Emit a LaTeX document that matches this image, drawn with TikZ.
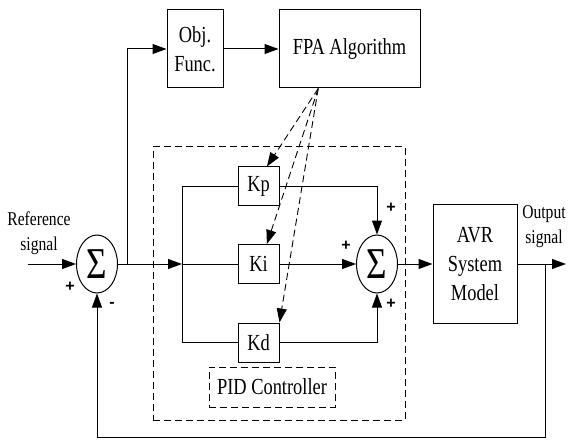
\documentclass[tikz,border=0pt]{standalone}
\usepackage{fontspec}
\setmainfont{Liberation Serif}
\setsansfont{Liberation Sans}
\usepackage{graphicx}
\usetikzlibrary{arrows.meta, shapes.geometric, calc}
\newcommand{\narrow}[1]{\scalebox{0.8}[1]{#1}}

\begin{document}
\begin{tikzpicture}[
  x=1pt, y=-1pt,
  line width=1pt,
  blk/.style={rectangle, draw, inner sep=0pt, align=center, font=\fontsize{23}{29}\selectfont},
  gain/.style={blk, minimum width=41pt, minimum height=39pt},
  sumnode/.style={ellipse, draw, inner sep=0pt, minimum width=41pt, minimum height=58pt, font=\fontsize{44}{44}\selectfont},
  sig/.style={align=center, font=\fontsize{19.5}{25}\selectfont},
  sgn/.style={font=\fontsize{16}{16}\selectfont\sffamily\bfseries},
  wire/.style={-{Triangle[length=14pt, width=10pt]}},
  tune/.style={wire, line width=0.9pt, dash pattern=on 7pt off 4pt},
]
\useasboundingbox (0,0) rectangle (568,441);

% Input and first summing point
\node[sig] (reftxt) at (39,233) {\narrow{Reference}\\\narrow{signal}};
\coordinate (in) at (28,264);
\node[sumnode] (s1) at (97,264) {\narrow{Σ}};
\coordinate (tap) at (127,264);
\node[sgn] (s1plus) at (70,287) {+};
\node[sgn] (s1minus) at (112,305) {-};

% Optimisation loop
\node[blk, minimum width=56pt, minimum height=78pt] (obj) at (195,49) {\narrow{Obj.}\\\narrow{Func.}};
\node[blk, minimum width=141pt, minimum height=78pt] (fpa) at (349.5,49) {\narrow{FPA Algorithm}};
\coordinate (fpaout) at ($(fpa.south west)!0.28!(fpa.south east)$);

% PID controller
\node[draw, dashed, dash pattern=on 7pt off 4pt, minimum width=252pt, minimum height=273pt] (pid) at (279,283.5) {};
\coordinate (br) at (182,264);
\node[gain] (kp) at (258.5,186.5) {\narrow{Kp}};
\node[gain] (ki) at (258.5,264) {\narrow{Ki}};
\node[gain] (kd) at (258.5,342.5) {\narrow{Kd}};
\node[sumnode] (s2) at (377,264) {\narrow{Σ}};
\node[sgn] (s2top) at (391,208) {+};
\node[sgn] (s2left) at (346,246) {+};
\node[sgn] (s2bot) at (391,304) {+};
\node[blk, dashed, dash pattern=on 7pt off 4pt, minimum width=126pt, minimum height=40pt] (pidlbl) at (272,387) {\narrow{PID Controller}};

% Plant and output
\node[blk, minimum width=84pt, minimum height=118pt] (avr) at (475,264) {\narrow{AVR}\\\narrow{System}\\\narrow{Model}};
\node[sig] (outtxt) at (544,227) {\narrow{Output}\\\narrow{signal}};
\coordinate (out) at (566,264);
\coordinate (fb) at (545,264);
\coordinate (fblow) at (545,437);

\draw[wire] (in) -- (s1);
\draw[wire] (s1) -- (br);
\draw[wire] (tap) |- (obj);
\draw[wire] (obj) -- (fpa);
\draw (br) |- (kp);
\draw (br) -- (ki);
\draw (br) |- (kd);
\draw[wire] (kp) -| (s2);
\draw[wire] (ki) -- (s2);
\draw[wire] (kd) -| (s2);
\draw[wire] (s2) -- (avr);
\draw[wire] (avr) -- (out);
\draw[wire] (fb) -- (fblow) -| (s1);

\draw[tune] (fpaout) -- ($(kp.north west)!0.7!(kp.north east)$);
\draw[tune] (fpaout) -- ($(ki.north west)!0.7!(ki.north east)$);
\draw[tune] (fpaout) -- (kd.north east);

\end{tikzpicture}
\end{document}
